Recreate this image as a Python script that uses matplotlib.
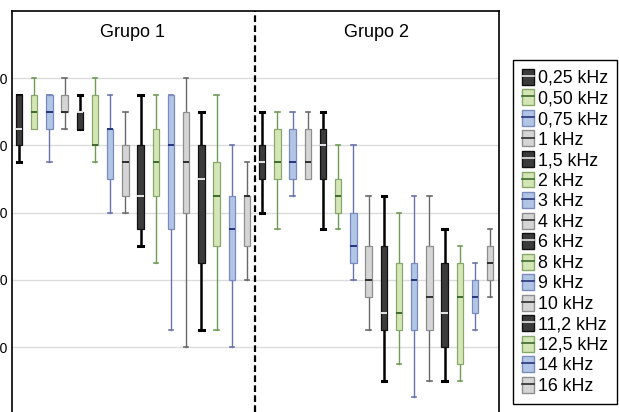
import matplotlib.pyplot as plt
from matplotlib.patches import Patch
from matplotlib.lines import Line2D
from matplotlib.legend_handler import HandlerTuple

plt.rcParams['font.family'] = ['Liberation Sans', 'DejaVu Sans']

freqs = ["0,25 kHz", "0,50 kHz", "0,75 kHz", "1 kHz", "1,5 kHz", "2 kHz", "3 kHz", "4 kHz",
         "6 kHz", "8 kHz", "9 kHz", "10 kHz", "11,2 kHz", "12,5 kHz", "14 kHz", "16 kHz"]
groups = ["Grupo 1", "Grupo 2"]

# Grupo 1 (one value per frequency)
g1_whislo = [37.5, 42.5, 37.5, 42.5, 42.5, 37.5, 30, 30, 25, 22.5, 12.5, 10, 12.5, 12.5, 10, 20]
g1_q1 = [40, 42.5, 42.5, 45, 42.5, 40, 35, 32.5, 27.5, 32.5, 27.5, 30, 22.5, 25, 20, 25]
g1_med = [42.5, 45, 45, 45, 45, 40, 42.5, 37.5, 32.5, 37.5, 40, 37.5, 35, 32.5, 27.5, 32.5]
g1_q3 = [47.5, 47.5, 47.5, 47.5, 45, 47.5, 42.5, 40, 40, 42.5, 47.5, 45, 40, 37.5, 32.5, 32.5]
g1_whishi = [47.5, 50, 47.5, 50, 47.5, 50, 47.5, 45, 47.5, 47.5, 47.5, 50, 45, 47.5, 40, 37.5]

# Grupo 2
g2_whislo = [30, 27.5, 32.5, 35, 27.5, 27.5, 20, 12.5, 5, 7.5, 2.5, 5, 5, 5, 12.5, 17.5]
g2_q1 = [35, 35, 35, 35, 35, 30, 22.5, 17.5, 12.5, 12.5, 12.5, 12.5, 10, 7.5, 15, 20]
g2_med = [37.5, 37.5, 37.5, 37.5, 40, 32.5, 25, 20, 15, 15, 20, 17.5, 15, 17.5, 17.5, 22.5]
g2_q3 = [40, 42.5, 42.5, 42.5, 42.5, 35, 30, 25, 25, 22.5, 22.5, 25, 22.5, 22.5, 20, 25]
g2_whishi = [45, 45, 45, 45, 45, 40, 40, 32.5, 32.5, 30, 32.5, 32.5, 27.5, 25, 22.5, 27.5]

yticks = [10, 20, 30, 40, 50]

# colour cycle: dark, green, blue, grey
box_fc = ["#3b3b3b", "#d5e6b6", "#b2c5e5", "#d5d5d5"]
box_ec = ["#111111", "#86a86a", "#7a8bc0", "#8e8e8e"]
whisk_c = ["#000000", "#6f9b57", "#6a73aa", "#6a6a6a"]
med_c = ["#e6e6e6", "#3f6a2c", "#26357a", "#2e2e2e"]
whisk_lw = [1.8, 1.0, 1.0, 1.0]
cap_lw = [2.2, 1.2, 1.2, 1.2]

stats = []
for lo, q1, med, q3, hi in zip(g1_whislo + g2_whislo, g1_q1 + g2_q1, g1_med + g2_med,
                               g1_q3 + g2_q3, g1_whishi + g2_whishi):
    stats.append(dict(whislo=lo, q1=q1, med=med, q3=q3, whishi=hi, fliers=[]))
positions = list(range(len(stats)))

fig = plt.figure(figsize=(6.19, 4.12), dpi=100)
ax = fig.add_axes([12 / 619, 0, 487.3 / 619, 1 - 11.1 / 412])

bp = ax.bxp(stats, positions=positions, widths=0.42, capwidths=0.28, patch_artist=True,
            showfliers=False)
for i in range(len(stats)):
    c = i % 4
    bp['boxes'][i].set(facecolor=box_fc[c], edgecolor=box_ec[c], linewidth=0.9, zorder=3)
    bp['medians'][i].set(color=med_c[c], linewidth=1.4, zorder=4)
    for w in bp['whiskers'][2 * i:2 * i + 2]:
        w.set(color=whisk_c[c], linewidth=whisk_lw[c], zorder=2)
    for cp in bp['caps'][2 * i:2 * i + 2]:
        cp.set(color=whisk_c[c], linewidth=cap_lw[c], zorder=2)

ax.set_xlim(-0.46, 31.6)
ax.set_ylim(0.34, 60)
ax.set_yticks(yticks)
ax.set_yticklabels([str(v) for v in yticks], fontsize=10)
ax.tick_params(axis='y', length=0, pad=3)
ax.set_xticks([])
ax.grid(axis='y', color='#dcdcdc', linewidth=1.0, zorder=0)
ax.set_axisbelow(True)
ax.spines['bottom'].set_visible(False)
for s in ['left', 'top', 'right']:
    ax.spines[s].set_linewidth(1.2)

ax.axvline(15.5, color='black', linestyle=(0, (3, 1.5)), linewidth=1.6, zorder=5)
ax.text(7.5, 56.2, groups[0], ha='center', va='baseline', fontsize=13)
ax.text(23.5, 56.2, groups[1], ha='center', va='baseline', fontsize=13)

handles = [(Patch(facecolor=box_fc[i % 4], edgecolor=box_ec[i % 4]),
            Line2D([], [], color=med_c[i % 4], linewidth=1.2)) for i in range(len(freqs))]
leg = fig.legend(handles, freqs, loc='upper left', bbox_to_anchor=(513 / 619, 1 - 60 / 412),
                 handler_map={tuple: HandlerTuple(ndivide=1)}, fontsize=12.8,
                 handlelength=0.7, handleheight=1.0, handletextpad=0.2, labelspacing=0.14,
                 borderpad=0.5, borderaxespad=0, fancybox=False, edgecolor='black',
                 framealpha=1)
leg.get_frame().set_linewidth(1.0)

fig.savefig("out.png", dpi=100)
